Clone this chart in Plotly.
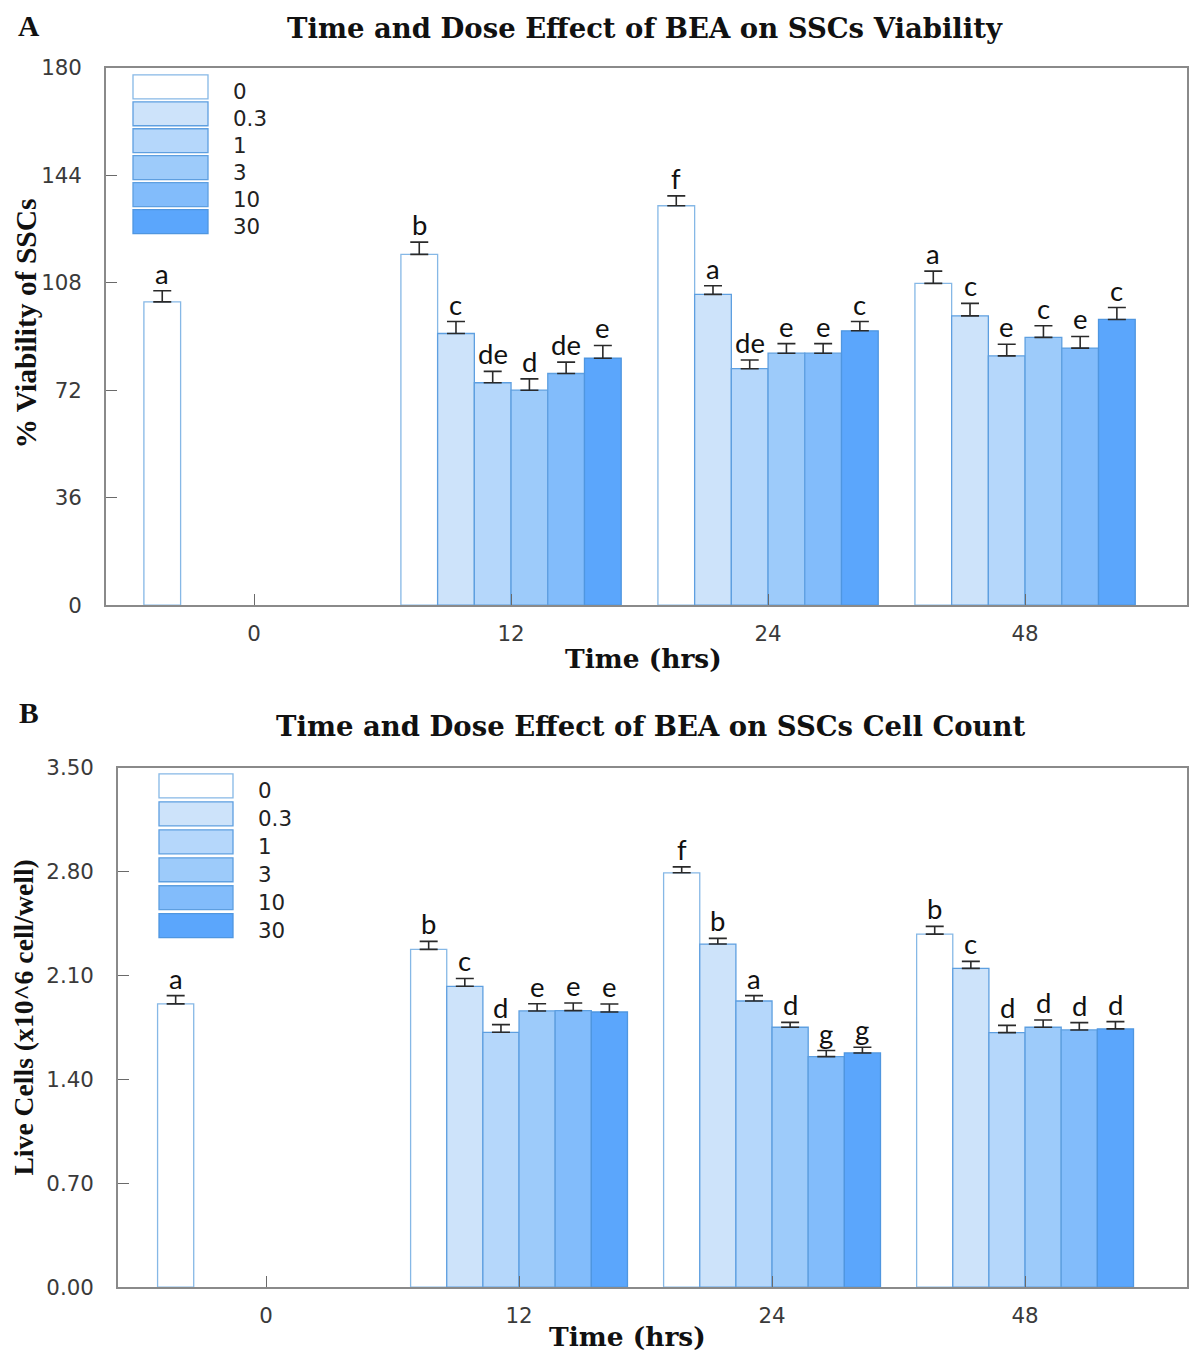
import plotly.graph_objects as go

W, H = 1191, 1352

times = ["0", "12", "24", "48"]
doses = ["0", "0.3", "1", "3", "10", "30"]

# Panel A: % viability (mean, upper error)
via_d0 = [101.6, 117.5, 133.8, 107.8]
via_d03 = [None, 91.0, 104.1, 96.9]
via_d1 = [None, 74.5, 79.2, 83.5]
via_d3 = [None, 72.0, 84.4, 89.7]
via_d10 = [None, 77.6, 84.4, 86.1]
via_d30 = [None, 82.7, 91.9, 95.7]
via_e0 = [3.7, 4.1, 3.3, 4.1]
via_e03 = [0, 4.0, 2.9, 4.2]
via_e1 = [0, 3.8, 2.9, 3.9]
via_e3 = [0, 3.8, 3.2, 3.9]
via_e10 = [0, 3.8, 3.2, 3.9]
via_e30 = [0, 4.3, 3.1, 4.0]
via_l0 = ["a", "b", "f", "a"]
via_l03 = ["", "c", "a", "c"]
via_l1 = ["", "de", "de", "e"]
via_l3 = ["", "d", "e", "c"]
via_l10 = ["", "de", "e", "e"]
via_l30 = ["", "e", "c", "c"]

# Panel B: live cells (x10^6 cell/well)
cnt_d0 = [1.91, 2.277, 2.793, 2.380]
cnt_d03 = [None, 2.028, 2.313, 2.149]
cnt_d1 = [None, 1.718, 1.929, 1.716]
cnt_d3 = [None, 1.862, 1.752, 1.752]
cnt_d10 = [None, 1.864, 1.554, 1.734]
cnt_d30 = [None, 1.855, 1.579, 1.741]
cnt_e0 = [0.055, 0.054, 0.040, 0.052]
cnt_e03 = [0, 0.053, 0.038, 0.047]
cnt_e1 = [0, 0.052, 0.036, 0.049]
cnt_e3 = [0, 0.049, 0.033, 0.049]
cnt_e10 = [0, 0.052, 0.041, 0.049]
cnt_e30 = [0, 0.054, 0.038, 0.049]
cnt_l0 = ["a", "b", "f", "b"]
cnt_l03 = ["", "c", "b", "c"]
cnt_l1 = ["", "d", "a", "d"]
cnt_l3 = ["", "e", "d", "d"]
cnt_l10 = ["", "e", "g", "d"]
cnt_l30 = ["", "e", "g", "d"]

via_ticks = [0, 36, 72, 108, 144, 180]
cnt_ticks = [0.0, 0.7, 1.4, 2.1, 2.8, 3.5]

fills = ["#ffffff", "#cde3fa", "#b5d7fb", "#9dcbfa", "#82bcfb", "#5ba6fc"]
edges = ["#86b8e6", "#5e9fe0", "#5e9fe0", "#5e9fe0", "#5e9fe0", "#4f96e0"]

via_means = [via_d0, via_d03, via_d1, via_d3, via_d10, via_d30]
via_errs = [via_e0, via_e03, via_e1, via_e3, via_e10, via_e30]
via_lets = [via_l0, via_l03, via_l1, via_l3, via_l10, via_l30]
cnt_means = [cnt_d0, cnt_d03, cnt_d1, cnt_d3, cnt_d10, cnt_d30]
cnt_errs = [cnt_e0, cnt_e03, cnt_e1, cnt_e3, cnt_e10, cnt_e30]
cnt_lets = [cnt_l0, cnt_l03, cnt_l1, cnt_l3, cnt_l10, cnt_l30]

xpos = list(range(len(times)))
n = len(doses)

# vertical compensation observed for the page capture
SY, OY = 0.9828, 11.1

def px(xp):
    return min(1.0, max(0.0, xp / W))

def py(yp):
    return min(1.0, max(0.0, 1 - ((yp - OY) / SY) / H))

def fs(s):
    return s / SY

fig = go.Figure()
annotations = []
shapes = []

letter_font = dict(family="Lato, Open Sans, sans-serif", size=fs(27), color="#111")

def add_panel(means, errs, lets, xa, ya):
    for i in range(n):
        fig.add_trace(go.Bar(
            x=xpos, y=means[i], name=doses[i],
            marker=dict(color=fills[i], line=dict(color=edges[i], width=1.3)),
            error_y=dict(type="data", symmetric=False, array=errs[i],
                         arrayminus=[0] * len(times), color="#2a2a2a",
                         thickness=1.6, width=9),
            xaxis=xa, yaxis=ya, showlegend=False, hoverinfo="y",
        ))
        off = (i - (n - 1) / 2) / (n + 1)
        for j, t in enumerate(lets[i]):
            if t and means[i][j] is not None:
                annotations.append(dict(
                    x=xpos[j] + off, y=means[i][j] + errs[i][j], xref=xa, yref=ya,
                    text=t, showarrow=False, yanchor="bottom", xanchor="center",
                    yshift=-1, font=letter_font))

add_panel(via_means, via_errs, via_lets, "x", "y")
add_panel(cnt_means, cnt_errs, cnt_lets, "x2", "y2")

tick_font = dict(family="DejaVu Sans, sans-serif", size=fs(21), color="#3a3a3a")
axis_common = dict(showline=True, linecolor="#8a8a8a", linewidth=1.6, mirror=True,
                   ticks="inside", ticklen=11, tickcolor="#6a6a6a", tickwidth=1.3,
                   showgrid=False, zeroline=False, tickfont=tick_font)

title_font = dict(family="DejaVu Serif, serif", size=fs(27), color="#111")
xtitle_font = dict(family="DejaVu Serif, serif", size=fs(26), color="#111")
ytitleA_font = dict(family="Liberation Serif, Times New Roman, serif", size=fs(29), color="#111")
ytitleB_font = dict(family="Liberation Serif, Times New Roman, serif", size=fs(27.2), color="#111")

fig.update_layout(
    width=W, height=H, autosize=False,
    margin=dict(l=0, r=0, t=0, b=0),
    paper_bgcolor="white", plot_bgcolor="white",
    barmode="group", bargap=1 / (n + 1), bargroupgap=0,
    xaxis=dict(domain=[px(106), px(1187)], range=[-0.576, 3.63], anchor="y",
               tickvals=xpos, ticktext=times, ticklabelstandoff=8, **axis_common),
    yaxis=dict(domain=[py(604), py(66)], range=[0, 180], anchor="x",
               tickvals=via_ticks, ticklabelstandoff=18, **axis_common),
    xaxis2=dict(domain=[px(118), px(1187)], range=[-0.585, 3.64], anchor="y2",
                tickvals=xpos, ticktext=times, ticklabelstandoff=8, **axis_common),
    yaxis2=dict(domain=[py(1287), py(767)], range=[0, 3.5], anchor="x2",
                tickvals=cnt_ticks, tickformat=".2f", ticklabelstandoff=18, **axis_common),
)

panel_font = dict(family="Liberation Serif, serif", size=fs(29), color="#111")
annotations += [
    dict(text="<b>A</b>", x=px(29), y=py(24), xref="paper", yref="paper", showarrow=False,
         xanchor="center", yanchor="middle", font=panel_font),
    dict(text="<b>B</b>", x=px(29), y=py(712), xref="paper", yref="paper", showarrow=False,
         xanchor="center", yanchor="middle", font=panel_font),
    dict(text="<b>Time and Dose Effect of BEA on SSCs Viability</b>", x=px(645), y=py(26),
         xref="paper", yref="paper", showarrow=False, xanchor="center", yanchor="middle", font=title_font),
    dict(text="<b>Time and Dose Effect of BEA on SSCs Cell Count</b>", x=px(651), y=py(725),
         xref="paper", yref="paper", showarrow=False, xanchor="center", yanchor="middle", font=title_font),
    dict(text="<b>Time (hrs)</b>", x=px(643), y=py(657), xref="paper", yref="paper", showarrow=False,
         xanchor="center", yanchor="middle", font=xtitle_font),
    dict(text="<b>Time (hrs)</b>", x=px(627), y=py(1336), xref="paper", yref="paper", showarrow=False,
         xanchor="center", yanchor="middle", font=xtitle_font),
    dict(text="<b>% Viability of SSCs</b>", x=px(26), y=py(322), xref="paper", yref="paper",
         showarrow=False, textangle=-90, xanchor="center", yanchor="middle", font=ytitleA_font),
    dict(text="<b>Live Cells (x10^6 cell/well)</b>", x=px(24), y=py(1017), xref="paper", yref="paper",
         showarrow=False, textangle=-90, xanchor="center", yanchor="middle", font=ytitleB_font),
]

legend_font = dict(family="DejaVu Sans, sans-serif", size=fs(21), color="#222")

def add_legend(x0, x1, top, step, hgt, label_x):
    for i, d in enumerate(doses):
        y0 = top + i * step
        shapes.append(dict(type="rect", xref="paper", yref="paper",
                           x0=px(x0), x1=px(x1), y0=py(y0 + hgt), y1=py(y0),
                           fillcolor=fills[i], line=dict(color=edges[i], width=1.3)))
        annotations.append(dict(text=d, x=px(label_x), y=py(y0 + hgt / 2 + 5), xref="paper", yref="paper",
                                showarrow=False, xanchor="left", yanchor="middle", font=legend_font))

add_legend(133, 208, 73, 27.0, 24, 231)
add_legend(159, 233, 773, 28.0, 24, 256)

fig.update_layout(annotations=annotations, shapes=shapes)
fig.write_html("out.html", config={"displayModeBar": False},
               post_script="document.body.style.margin='0';document.body.style.overflow='hidden';")
